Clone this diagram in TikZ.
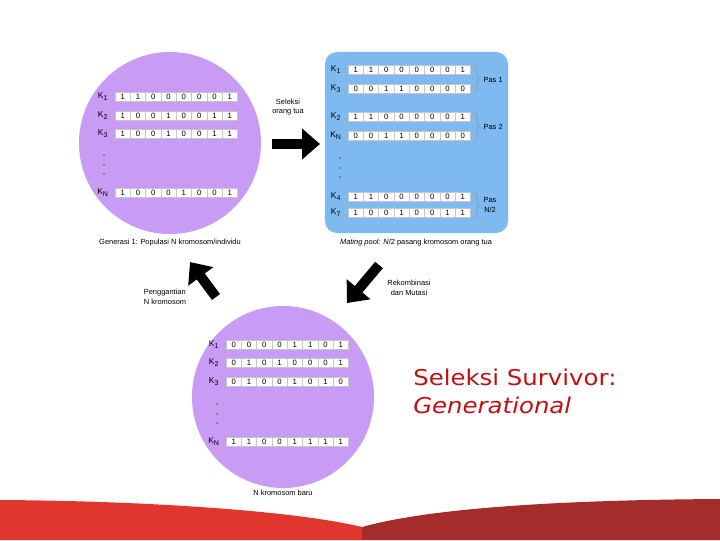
\documentclass[tikz,border=0pt]{standalone}
\usepackage{fontspec}
\setmainfont{Liberation Sans}
\newfontfamily\judulfont[FakeStretch=1.12]{DejaVu Sans}
\usetikzlibrary{arrows.meta,decorations.pathreplacing}
\definecolor{lavender}{RGB}{200,155,245}
\definecolor{biruPool}{RGB}{126,185,240}
\definecolor{merahTeks}{RGB}{192,16,20}
\definecolor{merahKiri}{RGB}{224,54,46}
\definecolor{merahKanan}{RGB}{164,44,42}

% one row of 8 genes: name, left x, y, label, bits
\newcommand{\barisKrom}[5]{%
  \node[klabel] (#1-lbl) at (#2-12,#3) {#4};
  \foreach \b [count=\i] in {#5} {
    \node[gen] (#1-\i) at ({#2+(\i-0.5)*15.3},#3) {\b};
  }
}

\begin{document}
\begin{tikzpicture}[x=0.025cm,y=-0.025cm,
    gen/.style={draw=gray!45,fill=white,minimum width=0.3825cm,minimum height=0.225cm,
                inner sep=0pt,font=\fontsize{5.5}{6}\selectfont},
    klabel/.style={inner sep=0pt,font=\fontsize{6}{6}\selectfont},
    kecil/.style={inner sep=0pt,font=\fontsize{5.3}{7}\selectfont,align=center},
    blokpanah/.style={line width=0.25cm,-{Triangle[length=0.45cm,width=0.75cm]}},
    kurung/.style={draw=gray!80,thin,decorate,decoration={brace,amplitude=3pt}}]
    \useasboundingbox (0,0) rectangle (720,540);

    % Generasi 1
    \node[circle,fill=lavender,minimum size=4.55cm] (pop1) at (170,143) {};
    \barisKrom{a1}{115}{97}{K\textsubscript{1}}{1,1,0,0,0,0,0,1}
    \barisKrom{a2}{115}{116}{K\textsubscript{2}}{1,0,0,1,0,0,1,1}
    \barisKrom{a3}{115}{134}{K\textsubscript{3}}{1,0,0,1,0,0,1,1}
    \barisKrom{aN}{115}{193}{K\textsubscript{N}}{1,0,0,0,1,0,0,1}
    \foreach \y in {155,165,174} \fill[gray!70!black] (104,\y) circle (0.9);
    \node[kecil] (cap1) at (170,243) {Generasi 1: Populasi N kromosom/individu};

    % Mating pool
    \node[fill=biruPool,rounded corners=0.3cm,minimum width=4.575cm,minimum height=4.525cm] (pool) at (416.5,142.5) {};
    \barisKrom{b1}{348}{70}{K\textsubscript{1}}{1,1,0,0,0,0,0,1}
    \barisKrom{b2}{348}{89}{K\textsubscript{3}}{0,0,1,1,0,0,0,0}
    \barisKrom{b3}{348}{117}{K\textsubscript{2}}{1,1,0,0,0,0,0,1}
    \barisKrom{b4}{348}{136}{K\textsubscript{N}}{0,0,1,1,0,0,0,0}
    \barisKrom{b5}{348}{197}{K\textsubscript{4}}{1,1,0,0,0,0,0,1}
    \barisKrom{b6}{348}{213}{K\textsubscript{7}}{1,0,0,1,0,0,1,1}
    \foreach \y in {158,168,177} \fill[gray!70!black] (340,\y) circle (0.9);
    \draw[kurung] ([xshift=3pt]b1-8.north east) -- ([xshift=3pt]b2-8.south east) node[kecil,midway,right=6pt] (pas1) {Pas 1};
    \draw[kurung] ([xshift=3pt]b3-8.north east) -- ([xshift=3pt]b4-8.south east) node[kecil,midway,right=6pt] (pas2) {Pas 2};
    \draw[kurung] ([xshift=3pt]b5-8.north east) -- ([xshift=3pt]b6-8.south east) node[kecil,midway,right=6pt] (pasN) {Pas\\N/2};
    \node[kecil] (cap2) at (416,243) {\textit{Mating pool:} \textit{N}/2 pasang kromosom orang tua};

    % Populasi baru
    \node[circle,fill=lavender,minimum size=4.55cm] (popbaru) at (283,397) {};
    \barisKrom{c1}{226}{345}{K\textsubscript{1}}{0,0,0,0,1,1,0,1}
    \barisKrom{c2}{226}{363}{K\textsubscript{2}}{0,1,0,1,0,0,0,1}
    \barisKrom{c3}{226}{382}{K\textsubscript{3}}{0,1,0,0,1,0,1,0}
    \barisKrom{cN}{226}{442}{K\textsubscript{N}}{1,1,0,0,1,1,1,1}
    \foreach \y in {404,414,423} \fill[gray!70!black] (217,\y) circle (0.9);
    \node[kecil] (cap3) at (283,493) {N kromosom baru};

    % Arrows
    \coordinate (p1a) at (272,144);
    \coordinate (p1b) at (320,144);
    \draw[blokpanah] (p1a) -- (p1b);
    \node[kecil] (seleksi) at (288,107) {Seleksi\\orang tua};

    \coordinate (p2a) at (379,265);
    \coordinate (p2b) at (347,303);
    \draw[blokpanah] (p2a) -- (p2b);
    \node[kecil] (rekomb) at (409,288) {Rekombinasi\\dan Mutasi};

    \coordinate (p3a) at (216,297);
    \coordinate (p3b) at (190,262);
    \draw[blokpanah] (p3a) -- (p3b);
    \node[kecil,align=left] (ganti) at (165,297) {Penggantian\\N kromosom};

    % Title
    \node[anchor=north west,inner sep=0pt,align=left,text=merahTeks,
          font=\judulfont\fontsize{15.5}{20}\selectfont] (judul) at (413,369)
          {Seleksi Survivor:\\\textit{Generational}};

    % Bottom band
    \fill[merahKiri] (0,500) .. controls (160,501) and (300,512) .. (362,527) -- (362,540) -- (0,540) -- cycle;
    \fill[merahKanan] (362,527) .. controls (430,508) and (560,500) .. (720,499) -- (720,540) -- (362,540) -- cycle;
\end{tikzpicture}
\end{document}
